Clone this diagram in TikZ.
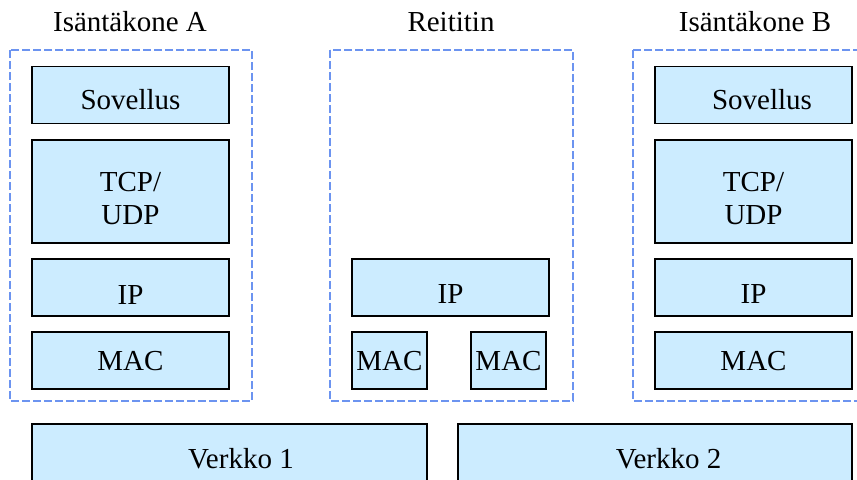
\documentclass[tikz,border=0pt]{standalone}
\usepackage{fontspec}
\setmainfont{Liberation Serif}
\usepackage{tikz}
\definecolor{layerblue}{RGB}{204,236,255}
\definecolor{frameblue}{RGB}{108,148,240}
\tikzstyle{layerblock} = [draw, fill=layerblue, line width=0.8pt, inner sep=0, minimum width=98.5pt, minimum height=28.5pt, text height=10pt, text depth=0pt]
\tikzstyle{hostframe} = [draw=frameblue, line width=0.55pt, dash pattern=on 4pt off 1.5pt]

\begin{document}
\begin{tikzpicture}[x=0.5pt, y=-0.5pt, font=\fontsize{14.5}{16.5}\selectfont]
      \useasboundingbox (0, 0) rectangle (857, 479);

      \node[anchor=base] (titleA) at (130, 31) {Isäntäkone A};
      \node[anchor=base] (titleR) at (451, 31) {Reititin};
      \node[anchor=base] (titleB) at (755, 31) {Isäntäkone B};

      \draw[hostframe] (10, 50) rectangle (252, 401);
      \draw[hostframe] (330, 50) rectangle (573, 401);
      \draw[hostframe] (633, 50) rectangle (880, 401);

      \node[layerblock, text height=14.5pt] (appA) at (130.5, 95) {Sovellus};
      \node[layerblock, minimum height=51.5pt, text height=32.5pt, align=center] (tcpA) at (130.5, 191.5) {TCP/\\UDP};
      \node[layerblock, text height=17pt] (ipA) at (130.5, 287.5) {IP};
      \node[layerblock] (macA) at (130.5, 360.5) {MAC};

      \node[layerblock, text height=15.5pt] (ipR) at (450.5, 287.5) {IP};
      \node[layerblock, minimum width=37.5pt] (macR1) at (389.5, 360.5) {MAC};
      \node[layerblock, minimum width=37.5pt] (macR2) at (508.5, 360.5) {MAC};

      \node[layerblock, text height=14.5pt] (appB) at (753.5, 95) {\hspace*{8.5pt}Sovellus};
      \node[layerblock, minimum height=51.5pt, text height=32.5pt, align=center] (tcpB) at (753.5, 191.5) {TCP/\\UDP};
      \node[layerblock, text height=15.5pt] (ipB) at (753.5, 287.5) {IP};
      \node[layerblock] (macB) at (753.5, 360.5) {MAC};

      \node[layerblock, minimum width=197.5pt, minimum height=30pt, text height=14pt] (net1) at (229.5, 454) {\hspace*{11.5pt}Verkko 1};
      \node[layerblock, minimum width=197pt, minimum height=30pt, text height=14pt] (net2) at (655, 454) {\hspace*{13.5pt}Verkko 2};
    \end{tikzpicture}
\end{document}
